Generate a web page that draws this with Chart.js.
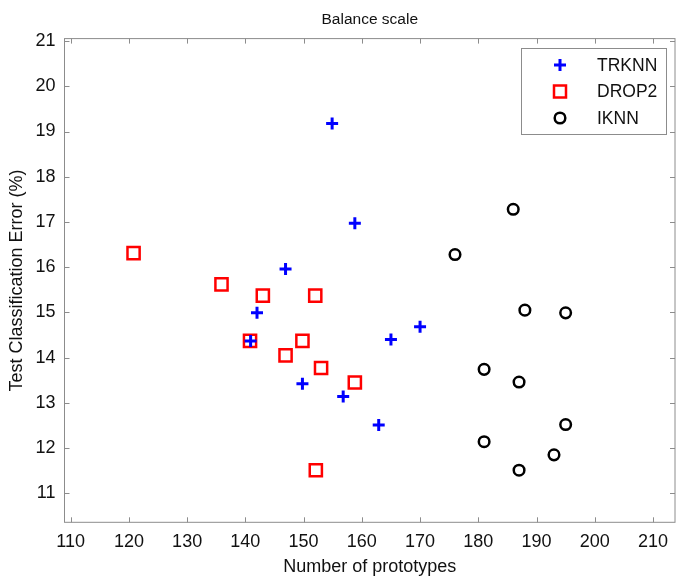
<!DOCTYPE html>
<html>
<head>
    <script src="https://cdnjs.cloudflare.com/ajax/libs/Chart.js/4.4.1/chart.umd.min.js"></script>
    <style>body{margin:0;background:#fff} canvas{display:block}</style>
</head>
<body>
<canvas id="myChart" width="677" height="580"></canvas>
<script>
// values
var trknnX = [154.9, 158.8, 146.9, 142.0, 140.9, 149.8, 156.8, 162.9, 165.0, 170.0];
var trknnY = [19.18, 16.97, 15.96, 14.99, 14.37, 13.42, 13.14, 12.51, 14.40, 14.68];
var drop2X = [120.8, 135.9, 143.0, 152.0, 140.8, 149.8, 146.9, 153.0, 158.8, 152.1];
var drop2Y = [16.31, 15.62, 15.37, 15.37, 14.37, 14.37, 14.05, 13.77, 13.45, 11.51];
var iknnX = [186, 176, 188, 195, 181, 187, 195, 181, 193, 187];
var iknnY = [17.28, 16.28, 15.05, 14.99, 13.74, 13.46, 12.52, 12.14, 11.85, 11.51];
var xTicks = [110, 120, 130, 140, 150, 160, 170, 180, 190, 200, 210];
var yTicks = [11, 12, 13, 14, 15, 16, 17, 18, 19, 20, 21];

function pts(xs, ys) {
    return xs.map(function(x, i) { return {x: x, y: ys[i]}; });
}

var fontName = "'Liberation Sans', Arial, sans-serif";

// MATLAB-like box with inward ticks on all four sides
var boxPlugin = {
    id: "box",
    afterDraw: function(chart) {
        var c = chart.ctx, a = chart.chartArea;
        var xs = chart.scales.x, ys = chart.scales.y;
        c.save();
        c.strokeStyle = "#8c8c8c";
        c.lineWidth = 1;
        c.strokeRect(a.left, a.top, a.right - a.left, a.bottom - a.top);
        c.beginPath();
        xs.ticks.forEach(function(t) {
            var px = Math.round(xs.getPixelForValue(t.value)) + .5;
            c.moveTo(px, a.bottom); c.lineTo(px, a.bottom - 5);
            c.moveTo(px, a.top); c.lineTo(px, a.top + 5);
        });
        ys.ticks.forEach(function(t) {
            var py = Math.round(ys.getPixelForValue(t.value)) + .5;
            c.moveTo(a.left, py); c.lineTo(a.left + 5, py);
            c.moveTo(a.right, py); c.lineTo(a.right - 5, py);
        });
        c.stroke();

        // legend box, top right
        var lx = 521, ly = 48, lw = 145, lh = 86;
        c.fillStyle = "#fff";
        c.fillRect(lx, ly, lw, lh);
        c.strokeRect(lx + .5, ly + .5, lw, lh);
        c.font = "17.5px " + fontName;
        c.textBaseline = "middle";
        chart.data.datasets.forEach(function(ds, i) {
            var my = ly + 17 + i * 26.5, mx = lx + 39;
            c.strokeStyle = ds.borderColor;
            c.lineWidth = ds.borderWidth;
            c.beginPath();
            if (ds.pointStyle === "cross") {
                c.moveTo(mx - 6, my); c.lineTo(mx + 6, my);
                c.moveTo(mx, my - 6); c.lineTo(mx, my + 6);
            } else if (ds.pointStyle === "rect") {
                c.rect(mx - 6, my - 6, 12, 12);
            } else {
                c.arc(mx, my, 5.3, 0, Math.PI * 2);
            }
            c.stroke();
            c.fillStyle = "#111";
            c.fillText(ds.label, lx + 76, my + 1);
        });
        c.restore();
    }
};

function fixTicks(list) {
    return function(scale) {
        scale.ticks = list.map(function(v) { return {value: v}; });
    };
}

new Chart(document.getElementById("myChart").getContext("2d"), {
    type: "scatter",
    data: {
        datasets: [{
            label: "TRKNN",
            data: pts(trknnX, trknnY),
            pointStyle: "cross",
            pointRadius: 6,
            pointHoverRadius: 6,
            borderColor: "#0000ff",
            backgroundColor: "#0000ff",
            borderWidth: 3
        }, {
            label: "DROP2",
            data: pts(drop2X, drop2Y),
            pointStyle: "rect",
            pointRadius: 8.6,
            pointHoverRadius: 8.6,
            borderColor: "#ff0000",
            backgroundColor: "rgba(0,0,0,0)",
            borderWidth: 2.5
        }, {
            label: "IKNN",
            data: pts(iknnX, iknnY),
            pointStyle: "circle",
            pointRadius: 5.3,
            pointHoverRadius: 5.3,
            borderColor: "#000000",
            backgroundColor: "rgba(0,0,0,0)",
            borderWidth: 2.5
        }]
    },
    options: {
        responsive: false,
        animation: false,
        layout: {autoPadding: false, padding: {top: 0, right: 2, left: 0, bottom: 0}},
        plugins: {
            legend: {display: false},
            tooltip: {enabled: false},
            title: {
                display: true,
                fullSize: false,
                text: "Balance scale",
                color: "#111",
                font: {family: fontName, size: 15.5, weight: "normal"},
                padding: {top: 10, bottom: 10}
            }
        },
        scales: {
            x: {
                type: "linear",
                min: 108.94,
                max: 213.78,
                afterBuildTicks: fixTicks(xTicks),
                afterFit: function(s) { s.height = 57.7; s.paddingLeft = 0; s.paddingRight = 0; },
                grid: {drawOnChartArea: false, drawTicks: false},
                border: {display: false},
                ticks: {color: "#111", padding: 9, font: {family: fontName, size: 18}},
                title: {
                    display: true,
                    text: "Number of prototypes",
                    color: "#111",
                    font: {family: fontName, size: 18},
                    padding: {top: 0, bottom: 2}
                }
            },
            y: {
                type: "linear",
                min: 10.358,
                max: 21.055,
                afterBuildTicks: fixTicks(yTicks),
                afterFit: function(s) { s.width = 64.5; s.paddingTop = 0; s.paddingBottom = 0; },
                grid: {drawOnChartArea: false, drawTicks: false},
                border: {display: false},
                ticks: {color: "#111", padding: 9, font: {family: fontName, size: 18}},
                title: {
                    display: true,
                    text: "Test Classification Error (%)",
                    color: "#111",
                    font: {family: fontName, size: 18},
                    padding: {top: 6, bottom: 0}
                }
            }
        }
    },
    plugins: [boxPlugin]
});
</script>
</body>
</html>
